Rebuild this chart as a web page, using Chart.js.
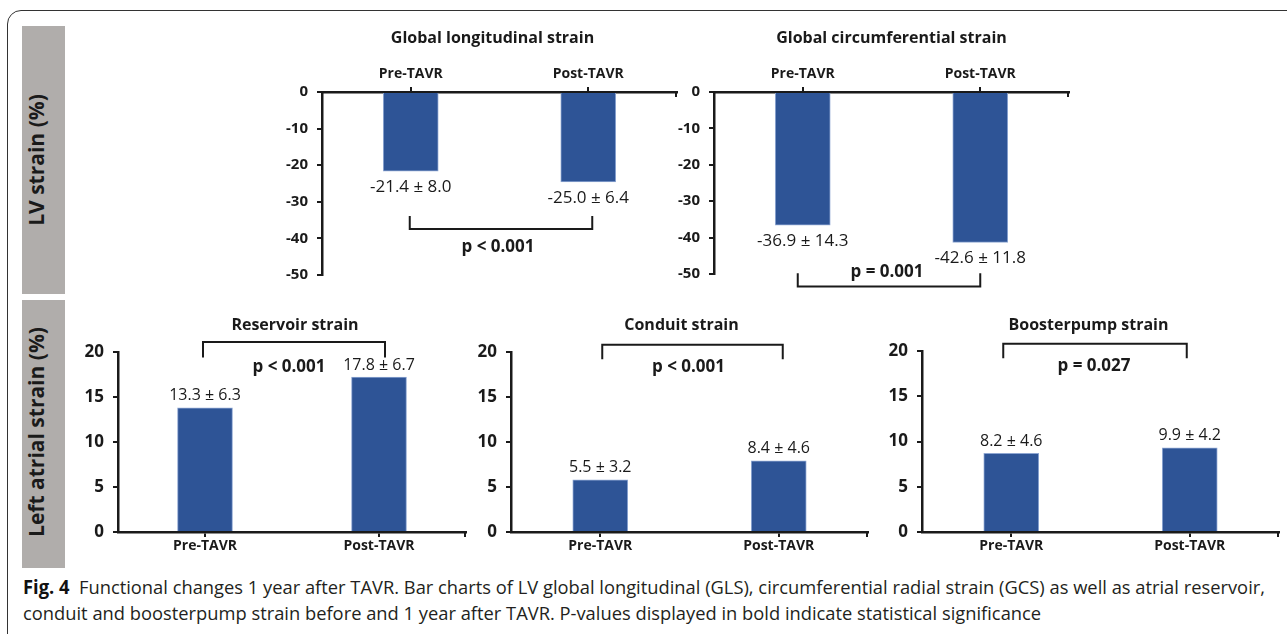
<!DOCTYPE html>
<html>
<head>
<meta charset="utf-8">
<script src="https://cdn.jsdelivr.net/npm/chart.js@4.4.1/dist/chart.umd.min.js"></script>
<style>
  body{margin:0;background:#fff;width:1287px;height:634px;overflow:hidden;position:relative;font-family:"Open Sans",sans-serif;color:#1a1a1a}
  .frame{position:absolute;left:7px;top:10px;width:1320px;height:660px;border:1.3px solid #333;border-radius:14px}
  .panel{position:absolute;left:22px;width:43px;background:#b0adab}
  .vlab{position:absolute;white-space:nowrap;font-weight:700;font-size:21px;transform:translate(-50%,-50%) rotate(-90deg);line-height:1}
  canvas{position:absolute}
  .cap{position:absolute;left:23px;white-space:nowrap;font-size:19px;color:#231f20;transform-origin:0 50%;line-height:1}
  .cap b{color:#111}
</style>
</head>
<body>
<div class="frame"></div>
<div class="panel" style="top:26px;height:268px"></div>
<div class="panel" style="top:300px;height:268px"></div>
<div class="vlab" style="left:36px;top:160px">LV strain (%)</div>
<div class="vlab" style="left:36px;top:432px">Left atrial strain (%)</div>

<canvas id="gls"></canvas>
<canvas id="gcs"></canvas>
<canvas id="res"></canvas>
<canvas id="con"></canvas>
<canvas id="boo"></canvas>

<div class="cap" id="cap1" style="top:578px"><b>Fig. 4</b>&nbsp; Functional changes 1 year after TAVR. Bar charts of LV global longitudinal (GLS), circumferential radial strain (GCS) as well as atrial reservoir,</div>
<div class="cap" id="cap2" style="top:604px">conduit and boosterpump strain before and 1 year after TAVR. P-values displayed in bold indicate statistical significance</div>

<script>
// data
const categories = ['Pre-TAVR', 'Post-TAVR'];

const glsValues = [-21.6, -24.6];
const glsLabels = ['-21.4 ± 8.0', '-25.0 ± 6.4'];
const gcsValues = [-36.6, -41.3];
const gcsLabels = ['-36.9 ± 14.3', '-42.6 ± 11.8'];

const reservoirValues = [13.8, 17.2];
const reservoirLabels = ['13.3 ± 6.3', '17.8 ± 6.7'];
const conduitValues = [5.8, 7.9];
const conduitLabels = ['5.5 ± 3.2', '8.4 ± 4.6'];
const boosterValues = [8.7, 9.3];
const boosterLabels = ['8.2 ± 4.6', '9.9 ± 4.2'];

const lvTicks = [0, -10, -20, -30, -40, -50];
const laTicks = [0, 5, 10, 15, 20];

const BLUE = '#2e5496';
const INK = '#1a1a1a';

// titles, value labels, significance brackets
const annotate = {
  id: 'annotate',
  afterDraw(chart, args, o) {
    const {ctx, chartArea: a, scales: {x, y}} = chart;
    const meta = chart.getDatasetMeta(0);
    ctx.save();
    ctx.fillStyle = INK;
    ctx.textAlign = 'center';
    ctx.textBaseline = 'middle';

    ctx.font = '700 16px "Open Sans"';
    ctx.fillText(o.title, (a.left + a.right) / 2 + o.titleDx, a.top - o.titleUp);

    ctx.font = o.labelFont;
    meta.data.forEach((bar, i) => {
      const v = chart.data.datasets[0].data[i];
      ctx.fillText(o.labels[i], bar.x, bar.y + (v < 0 ? o.gap : -o.gap));
    });

    // bracket
    const x0 = x.getPixelForValue(0) + o.bx0, x1 = x.getPixelForValue(1) + o.bx1;
    const yb = y.getPixelForValue(o.bracket[0]), yt = y.getPixelForValue(o.bracket[1]);
    ctx.strokeStyle = INK;
    ctx.lineWidth = 2;
    ctx.beginPath();
    ctx.moveTo(x0, yt); ctx.lineTo(x0, yb); ctx.lineTo(x1, yb); ctx.lineTo(x1, yt);
    ctx.stroke();

    ctx.font = '700 17px "Open Sans"';
    ctx.fillText(o.p, (x0 + x1) / 2 + o.pDx, y.getPixelForValue(o.pAt));

    // small end tick on the category axis
    const ya = o.top ? a.top : a.bottom;
    ctx.lineWidth = 2;
    ctx.beginPath();
    ctx.moveTo(a.right - 1, ya); ctx.lineTo(a.right - 1, ya + 5);
    ctx.stroke();
    ctx.restore();
  }
};

function place(id, box, area, top) {
  const el = document.getElementById(id);
  el.style.left = box.x + 'px';
  el.style.top = box.y + 'px';
  el.style.width = box.w + 'px';
  el.style.height = box.h + 'px';
  const wy = 50, hx = 30;
  const pad = {
    left: area.l - box.x - wy,
    right: box.x + box.w - area.r,
    top: top ? area.t - box.y - hx : area.t - box.y,
    bottom: top ? box.y + box.h - area.b : box.y + box.h - area.b - hx
  };
  return {el, pad, wy, hx};
}

function strainChart(id, box, area, values, ticks, ann) {
  const top = ticks[0] === 0 && ticks[1] < 0;
  const {el, pad, wy, hx} = place(id, box, area, top);
  return new Chart(el, {
    type: 'bar',
    data: {
      labels: categories,
      datasets: [{
        data: values,
        backgroundColor: BLUE,
        borderColor: '#8ea6d2',
        borderWidth: 1,
        barThickness: 55
      }]
    },
    options: {
      responsive: false,
      animation: false,
      layout: {padding: pad},
      plugins: {legend: {display: false}, tooltip: {enabled: false}, annotate: Object.assign({top}, ann)},
      scales: {
        x: {
          position: top ? 'top' : 'bottom',
          offset: true,
          grid: {display: true, offset: false, drawOnChartArea: false, drawTicks: true, tickLength: 5, color: INK, lineWidth: 2},
          border: {display: true, color: INK, width: 2.5},
          ticks: {color: INK, font: {family: 'Open Sans', weight: '700', size: 14}, padding: top ? 5 : 1, maxRotation: 0},
          afterFit: s => { s.height = hx; }
        },
        y: {
          min: Math.min(...ticks),
          max: Math.max(...ticks),
          grid: {display: true, drawOnChartArea: false, drawTicks: true, tickLength: 5, color: INK, lineWidth: 2},
          border: {display: true, color: INK, width: 2.5},
          ticks: {color: INK, font: {family: 'Open Sans', weight: '700', size: top ? 15 : 17}, padding: 9},
          afterBuildTicks: s => { s.ticks = ticks.map(v => ({value: v})); },
          afterFit: s => { s.width = wy; }
        }
      }
    },
    plugins: [annotate]
  });
}

strainChart('gls', {x: 250, y: 20, w: 440, h: 280}, {l: 322, t: 92, r: 677, b: 275}, glsValues, lvTicks, {
  title: 'Global longitudinal strain', titleDx: -7, titleUp: 54,
  labels: glsLabels, labelFont: '400 17px "Open Sans"', gap: 16,
  bracket: [-37.4, -33.9], bx0: -1, bx1: 4, p: 'p < 0.001', pAt: -42.3, pDx: -3
});
strainChart('gcs', {x: 640, y: 20, w: 440, h: 280}, {l: 714, t: 92, r: 1069, b: 274}, gcsValues, lvTicks, {
  title: 'Global circumferential strain', titleDx: 0, titleUp: 54,
  labels: gcsLabels, labelFont: '400 17px "Open Sans"', gap: 16,
  bracket: [-53.4, -49.8], bx0: -5, bx1: 0, p: 'p = 0.001', pAt: -49.6, pDx: -2
});
strainChart('res', {x: 60, y: 305, w: 415, h: 262}, {l: 118, t: 352, r: 466, b: 532}, reservoirValues, laTicks, {
  title: 'Reservoir strain', titleDx: 3, titleUp: 27,
  labels: reservoirLabels, labelFont: '400 16px "Open Sans"', gap: 12,
  bracket: [21.1, 19.4], bx0: -2, bx1: 6, p: 'p < 0.001', pAt: 18.3, pDx: -5
});
strainChart('con', {x: 455, y: 305, w: 425, h: 262}, {l: 511, t: 352, r: 868, b: 532}, conduitValues, laTicks, {
  title: 'Conduit strain', titleDx: -8, titleUp: 27,
  labels: conduitLabels, labelFont: '400 16px "Open Sans"', gap: 12,
  bracket: [20.8, 19.2], bx0: 2, bx1: 4, p: 'p < 0.001', pAt: 18.3, pDx: -4
});
strainChart('boo', {x: 865, y: 305, w: 422, h: 262}, {l: 922, t: 351, r: 1279, b: 532}, boosterValues, laTicks, {
  title: 'Boosterpump strain', titleDx: -12, titleUp: 26,
  labels: boosterLabels, labelFont: '400 16px "Open Sans"', gap: 12,
  bracket: [20.8, 19.2], bx0: -8, bx1: -3, p: 'p = 0.027', pAt: 18.3, pDx: -1
});

// squeeze the caption to the condensed width of the original
const c1 = document.getElementById('cap1'), c2 = document.getElementById('cap2');
const k = 1242 / c1.getBoundingClientRect().width;
c1.style.transform = `scaleX(${k})`;
c2.style.transform = `scaleX(${k})`;
</script>
</body>
</html>
